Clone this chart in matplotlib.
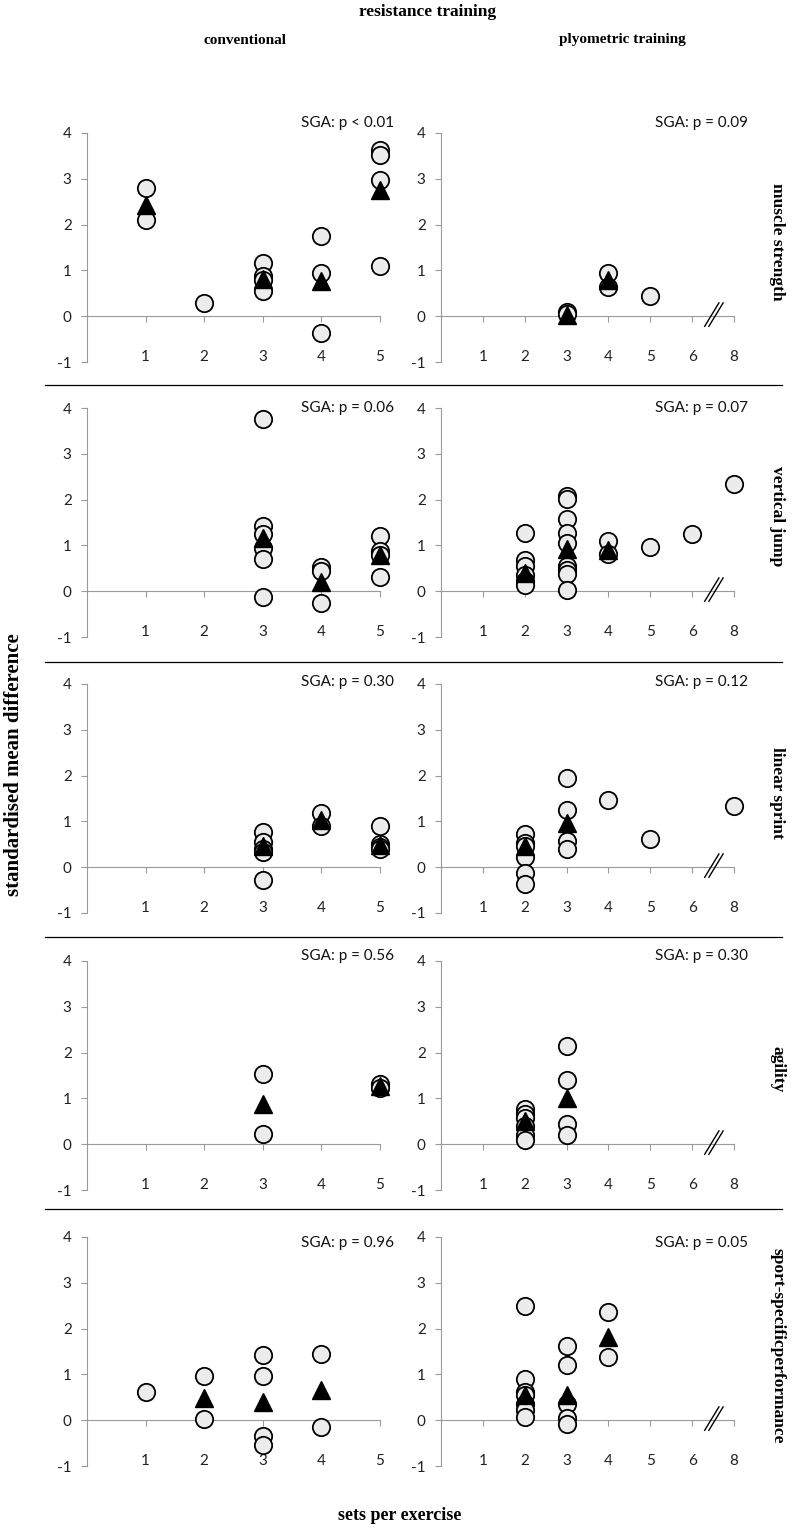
import matplotlib
matplotlib.use('Agg')
import matplotlib.pyplot as plt
from matplotlib.lines import Line2D

# row / column labels
outcomes = ['muscle strength', 'vertical jump', 'linear sprint', 'agility',
            'sport-specificperformance']
sga_conv = ['SGA: p < 0.01', 'SGA: p = 0.06', 'SGA: p = 0.30', 'SGA: p = 0.56', 'SGA: p = 0.96']
sga_plyo = ['SGA: p = 0.09', 'SGA: p = 0.07', 'SGA: p = 0.12', 'SGA: p = 0.30', 'SGA: p = 0.05']
conv_levels = [1, 2, 3, 4, 5]
plyo_levels = [1, 2, 3, 4, 5, 6, 8]

# single studies (circles) and pooled means (triangles), conventional training
ms_conv_x = [1, 1, 2, 3, 3, 3, 3, 4, 4, 4, 5, 5, 5, 5]
ms_conv_y = [2.81, 2.10, 0.29, 1.17, 0.88, 0.80, 0.56, 1.76, 0.94, -0.36, 3.63, 3.52, 2.98, 1.09]
ms_conv_mx = [1, 3, 4, 5]
ms_conv_my = [2.42, 0.82, 0.77, 2.76]

vj_conv_x = [3, 3, 3, 3, 3, 3, 4, 4, 4, 5, 5, 5, 5]
vj_conv_y = [3.77, 1.43, 1.25, 0.95, 0.70, -0.13, 0.53, 0.45, -0.25, 1.21, 0.88, 0.80, 0.30]
vj_conv_mx = [3, 4, 5]
vj_conv_my = [1.16, 0.20, 0.78]

ls_conv_x = [3, 3, 3, 3, 3, 4, 4, 5, 5, 5, 5]
ls_conv_y = [0.77, 0.55, 0.40, 0.33, -0.27, 1.18, 0.91, 0.90, 0.50, 0.45, 0.40]
ls_conv_mx = [3, 4, 5]
ls_conv_my = [0.46, 1.02, 0.49]

ag_conv_x = [3, 3, 5, 5]
ag_conv_y = [1.53, 0.23, 1.31, 1.23]
ag_conv_mx = [3, 5]
ag_conv_my = [0.87, 1.27]

sp_conv_x = [1, 2, 2, 3, 3, 3, 3, 4, 4]
sp_conv_y = [0.61, 0.96, 0.03, 1.42, 0.96, -0.35, -0.54, 1.44, -0.14]
sp_conv_mx = [2, 3, 4]
sp_conv_my = [0.48, 0.39, 0.65]

# plyometric training
ms_plyo_x = [3, 3, 4, 4, 5]
ms_plyo_y = [0.10, 0.05, 0.94, 0.64, 0.44]
ms_plyo_mx = [3, 4]
ms_plyo_my = [0.03, 0.78]

vj_plyo_x = [2, 2, 2, 2, 2, 2, 3, 3, 3, 3, 3, 3, 3, 3, 3, 4, 4, 5, 6, 8]
vj_plyo_y = [1.28, 0.68, 0.55, 0.35, 0.22, 0.14, 2.07, 2.01, 1.57, 1.28, 1.05, 0.54, 0.47,
             0.38, 0.02, 1.09, 0.82, 0.96, 1.25, 2.33]
vj_plyo_mx = [2, 3, 4]
vj_plyo_my = [0.40, 0.92, 0.90]

ls_plyo_x = [2, 2, 2, 2, 2, 2, 3, 3, 3, 3, 4, 5, 8]
ls_plyo_y = [0.73, 0.53, 0.46, 0.22, -0.13, -0.36, 1.95, 1.24, 0.58, 0.40, 1.46, 0.62, 1.34]
ls_plyo_mx = [2, 3]
ls_plyo_my = [0.46, 0.97]

ag_plyo_x = [2, 2, 2, 2, 2, 2, 3, 3, 3, 3]
ag_plyo_y = [0.76, 0.65, 0.58, 0.39, 0.21, 0.10, 2.15, 1.40, 0.45, 0.20]
ag_plyo_mx = [2, 3]
ag_plyo_my = [0.50, 1.01]

sp_plyo_x = [2, 2, 2, 2, 2, 2, 2, 3, 3, 3, 3, 3, 4, 4]
sp_plyo_y = [2.50, 0.89, 0.61, 0.54, 0.36, 0.23, 0.08, 1.62, 1.20, 0.36, 0.05, -0.08, 2.36, 1.39]
sp_plyo_mx = [2, 3, 4]
sp_plyo_my = [0.56, 0.56, 1.82]

conv_panels = [(ms_conv_x, ms_conv_y, ms_conv_mx, ms_conv_my),
               (vj_conv_x, vj_conv_y, vj_conv_mx, vj_conv_my),
               (ls_conv_x, ls_conv_y, ls_conv_mx, ls_conv_my),
               (ag_conv_x, ag_conv_y, ag_conv_mx, ag_conv_my),
               (sp_conv_x, sp_conv_y, sp_conv_mx, sp_conv_my)]
plyo_panels = [(ms_plyo_x, ms_plyo_y, ms_plyo_mx, ms_plyo_my),
               (vj_plyo_x, vj_plyo_y, vj_plyo_mx, vj_plyo_my),
               (ls_plyo_x, ls_plyo_y, ls_plyo_mx, ls_plyo_my),
               (ag_plyo_x, ag_plyo_y, ag_plyo_mx, ag_plyo_my),
               (sp_plyo_x, sp_plyo_y, sp_plyo_mx, sp_plyo_my)]

W, H = 800, 1528
fig = plt.figure(figsize=(W / 100, H / 100), dpi=100)

# pixel layout of the panels
row_top = [133, 408, 684, 961, 1237]
row_h = 229
sga_px = [123, 408, 682, 956, 1243]
sep_px = [385, 662, 937, 1209]
col_left = [87, 441]
col_w = 293

TICK_FONT = 'Lato'
SERIF = 'Liberation Serif'
AXIS_GREY = '#9a9a9a'


def make_axes(left_px, top_px):
    return fig.add_axes([left_px / W, 1 - (top_px + row_h) / H, col_w / W, row_h / H])


def draw_panel(ax, levels, data, sga, sga_y):
    xs, ys, mxs, mys = data
    pos = lambda vals: [levels.index(v) + 1 for v in vals]
    n = len(levels)
    ax.set_xlim(0, n)
    ax.set_ylim(-1, 4)
    for s in ['top', 'right']:
        ax.spines[s].set_visible(False)
    ax.spines['left'].set_color(AXIS_GREY)
    ax.spines['bottom'].set_color(AXIS_GREY)
    ax.spines['bottom'].set_position(('data', 0))
    ax.set_yticks([-1, 0, 1, 2, 3, 4])
    ax.set_yticklabels(['-1', '0', '1', '2', '3', '4'], fontfamily=TICK_FONT,
                       fontsize=11, color='#222222')
    ax.set_xticks(range(1, n + 1))
    ax.set_xticklabels([])
    ax.tick_params(axis='both', direction='out', length=4, width=0.8, color=AXIS_GREY, pad=7)
    # category labels sit at the bottom of the plot, not at the axis line
    for i, lab in enumerate(levels):
        ax.text(i + 1, -0.9, str(lab), ha='center', va='center', fontfamily=TICK_FONT,
                fontsize=11, color='#222222')
    ax.plot(pos(xs), ys, linestyle='none', marker='o', markersize=12.5, clip_on=False,
            markerfacecolor='#ececec', markeredgecolor='black', markeredgewidth=1.3, zorder=3)
    ax.plot(pos(mxs), mys, linestyle='none', marker='^', markersize=13, clip_on=False,
            markerfacecolor='black', markeredgecolor='black', zorder=4)
    fig.text((ax.get_position().x1 * W + 14) / W, 1 - sga_y / H, sga,
             ha='right', va='center', fontfamily=TICK_FONT, fontsize=11, color='#111111')
    ax.set_facecolor('none')


for r in range(5):
    ax_c = make_axes(col_left[0], row_top[r])
    draw_panel(ax_c, conv_levels, conv_panels[r], sga_conv[r], sga_px[r])
    ax_p = make_axes(col_left[1], row_top[r])
    draw_panel(ax_p, plyo_levels, plyo_panels[r], sga_plyo[r], sga_px[r])
    # axis break between 6 and 8
    for dx in [0, 0.1]:
        ax_p.plot([6.3 + dx, 6.64 + dx], [-0.22, 0.29], color='black', lw=1.0,
                  clip_on=False, zorder=5)
    fig.text(777 / W, 1 - (row_top[r] + row_h / 2 - 6) / H, outcomes[r], rotation=-90,
             ha='center', va='center', fontfamily=SERIF, fontweight='bold', fontsize=12.5)

# separator lines between rows
for y in sep_px:
    fig.add_artist(Line2D([45 / W, 782 / W], [1 - y / H, 1 - y / H], color='black', lw=0.9))

fig.text(428 / W, 1 - 12 / H, 'resistance training', ha='center', va='center',
         fontfamily=SERIF, fontweight='bold', fontsize=12.5)
fig.text(245 / W, 1 - 40 / H, 'conventional', ha='center', va='center',
         fontfamily=SERIF, fontweight='bold', fontsize=11)
fig.text(622 / W, 1 - 40 / H, 'plyometric training', ha='center', va='center',
         fontfamily=SERIF, fontweight='bold', fontsize=11)
fig.text(14 / W, 1 - 765 / H, 'standardised mean difference', rotation=90, ha='center',
         va='center', fontfamily=SERIF, fontweight='bold', fontsize=15)
fig.text(400 / W, 1 - 1515 / H, 'sets per exercise', ha='center', va='center',
         fontfamily=SERIF, fontweight='bold', fontsize=13)

fig.savefig('out.png', dpi=100, facecolor='white')
